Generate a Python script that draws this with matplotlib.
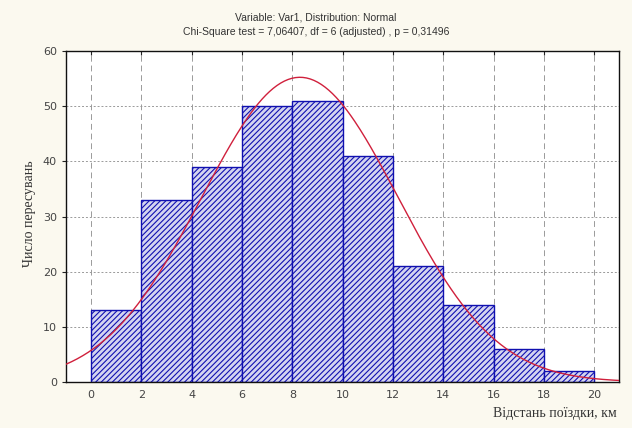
import numpy as np
import matplotlib
matplotlib.use("Agg")
import matplotlib.pyplot as plt

# histogram of trip distances
binEdges = [0, 2, 4, 6, 8, 10, 12, 14, 16, 18, 20]
counts = [13, 33, 39, 50, 51, 41, 21, 14, 6, 2]
# fitted normal curve parameters
fitMean = 8.3
fitStd = 3.9

titleLines = ["Variable: Var1, Distribution: Normal",
              "Chi-Square test = 7,06407, df = 6 (adjusted) , p = 0,31496"]
xTicks = [0, 2, 4, 6, 8, 10, 12, 14, 16, 18, 20]
yTicks = [0, 10, 20, 30, 40, 50, 60]

plt.rcParams['hatch.color'] = '#2a2ab0'
plt.rcParams['hatch.linewidth'] = 0.8

fig = plt.figure(figsize=(6.32, 4.28), dpi=100, facecolor='#fbf9ef')
ax = fig.add_axes([0.1044, 0.1075, 0.8756, 0.7733])

widths = np.diff(binEdges)
ax.bar(binEdges[:-1], counts, width=widths, align='edge', color='#d4d4f0',
       edgecolor='#1010b0', linewidth=1.0, hatch='//////', zorder=2)

total = sum(counts)
binW = binEdges[1] - binEdges[0]
xs = np.linspace(-1, 21, 300)
ys = total * binW / (fitStd * np.sqrt(2 * np.pi)) * np.exp(-(xs - fitMean) ** 2 / (2 * fitStd ** 2))
ax.plot(xs, ys, color='#d0203c', linewidth=1.0, zorder=3)

ax.set_xlim(-1, 21)
ax.set_ylim(0, 60)
ax.set_xticks(xTicks)
ax.set_yticks(yTicks)
for x in xTicks:
    ax.axvline(x, color='#9a9a9a', linestyle=(0, (6, 4)), linewidth=0.7, zorder=1)
for y in yTicks[1:-1]:
    ax.axhline(y, color='#9a9a9a', linestyle=(0, (2, 2)), linewidth=0.7, zorder=1)

ax.tick_params(axis='both', labelsize=8, colors='#222222', labelcolor='#444444', length=3)
ax.tick_params(axis='x', direction='in', top=True, pad=6)
ax.tick_params(axis='y', direction='out', right=False)
for sp in ax.spines.values():
    sp.set_linewidth(1.0)
    sp.set_color('#111111')

fig.text(0.5, 0.96, titleLines[0], ha='center', va='center', fontsize=7.5,
         family='Liberation Sans', color='#333333')
fig.text(0.5, 0.925, titleLines[1], ha='center', va='center', fontsize=7.5,
         family='Liberation Sans', color='#333333')

fig.text(0.878, 0.035, "Відстань поїздки, км", ha='center', va='center', fontsize=10,
         family='Liberation Serif', color='#333333')
fig.text(0.047, 0.5, "Число пересувань", ha='center', va='center', rotation=90,
         fontsize=10, family='Liberation Serif', color='#333333')

fig.savefig("out.png", dpi=100, facecolor=fig.get_facecolor())
